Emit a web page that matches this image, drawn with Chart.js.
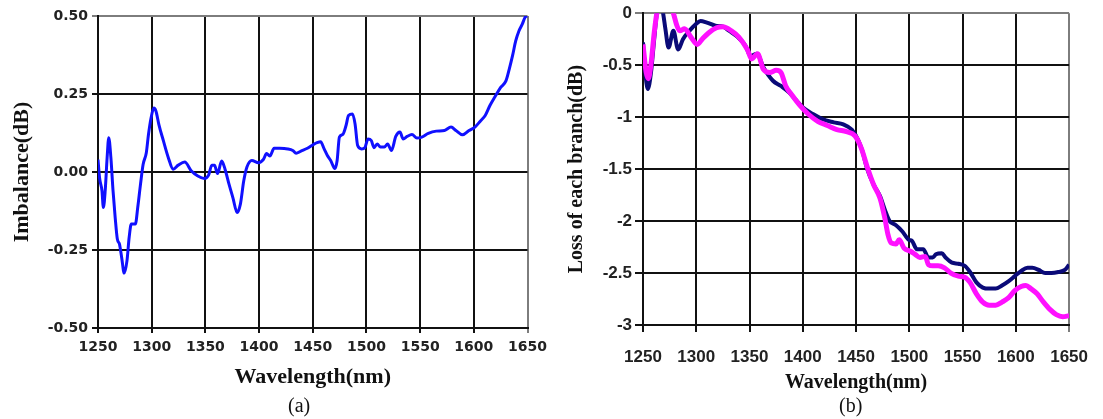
<!DOCTYPE html>
<html>
<head>
<meta charset="utf-8">
<script src="https://cdn.jsdelivr.net/npm/chart.js@4.4.1/dist/chart.umd.min.js"></script>
<style>
  body { margin: 0; background: #fff; width: 1103px; height: 419px; overflow: hidden; position: relative; }
  canvas { position: absolute; top: 0; }
  #chartA { left: 0; }
  #chartB { left: 553px; }
  .cap { position: absolute; top: 394px; font: 20px "Liberation Serif", serif; color: #111; }
</style>
</head>
<body>
<canvas id="chartA" width="553" height="419"></canvas>
<canvas id="chartB" width="550" height="419"></canvas>
<div class="cap" style="left:288px">(a)</div>
<div class="cap" style="left:839px">(b)</div>
<script>
// tick values
const wavelengthTicks = [1250, 1300, 1350, 1400, 1450, 1500, 1550, 1600, 1650];
const imbalanceTicks = [-0.5, -0.25, 0, 0.25, 0.5];
const lossTicks = [-3, -2.5, -2, -1.5, -1, -0.5, 0];

// (a) imbalance
const imbalanceWl = [1250, 1251.5, 1253.7, 1255, 1256.7, 1258.5, 1260, 1262, 1264, 1266,
    1268, 1270, 1272, 1274.4, 1277, 1279, 1281, 1284.8, 1287, 1289.6,
    1292, 1295, 1297, 1299.4, 1302, 1304, 1306.7, 1311, 1315.5, 1320,
    1324.7, 1330.8, 1337, 1343, 1349, 1353, 1356, 1358.5, 1361.3, 1365.2,
    1368.3, 1372, 1375.6, 1379.6, 1382.6, 1385.7, 1388.7, 1393.3, 1399.4, 1404,
    1407, 1410, 1414, 1419, 1426.8, 1431.4, 1434.5, 1439, 1445, 1450.6,
    1454, 1457.3, 1460.6, 1463.6, 1466.7, 1470.6, 1472.7, 1474.8, 1477.9, 1481,
    1483.3, 1487, 1489.4, 1491.8, 1495.5, 1498.5, 1501.5, 1504.5, 1507, 1510,
    1513, 1516.7, 1519.7, 1523.3, 1527.3, 1531.2, 1534.2, 1537.9, 1542.4, 1547,
    1551.5, 1557.6, 1565, 1572.7, 1578.8, 1583.3, 1589.4, 1595.5, 1601, 1606,
    1610.6, 1615, 1619.7, 1625, 1630, 1633, 1636, 1639, 1642, 1645,
    1648, 1650];
const imbalanceDb = [0.04, -0.02, -0.06, -0.114, -0.06, 0.046, 0.11, 0.046, -0.06, -0.146,
    -0.215, -0.231, -0.273, -0.324, -0.284, -0.21, -0.167, -0.167, -0.114, -0.039,
    0.024, 0.062, 0.12, 0.173, 0.205, 0.195, 0.152, 0.099, 0.046, 0.009,
    0.022, 0.032, 0.003, -0.013, -0.021, -0.01, 0.022, 0.022, -0.005, 0.035,
    0.009, -0.039, -0.082, -0.13, -0.103, -0.029, 0.016, 0.037, 0.03, 0.04,
    0.059, 0.051, 0.076, 0.076, 0.074, 0.069, 0.06, 0.067, 0.076, 0.088,
    0.094, 0.097, 0.074, 0.053, 0.037, 0.011, 0.037, 0.112, 0.12, 0.149,
    0.181, 0.186, 0.154, 0.085, 0.074, 0.078, 0.106, 0.101, 0.078, 0.09,
    0.08, 0.08, 0.09, 0.069, 0.114, 0.128, 0.106, 0.114, 0.12, 0.109,
    0.112, 0.124, 0.131, 0.133, 0.144, 0.133, 0.119, 0.133, 0.144, 0.163,
    0.181, 0.213, 0.241, 0.271, 0.293, 0.33, 0.372, 0.42, 0.452, 0.473,
    0.497, 0.5];

// (b) loss of each branch
const navyWl = [1250, 1251.5, 1254.5, 1257.5, 1260.5, 1263, 1265.5, 1268.5, 1271, 1274,
    1278.5, 1283, 1287.5, 1293.5, 1299.5, 1304, 1310, 1318, 1325, 1331,
    1339, 1346, 1351, 1357, 1363, 1372, 1379.5, 1387, 1393, 1400.5,
    1409.5, 1418.5, 1429, 1438, 1446, 1452, 1456, 1460.5, 1466.5, 1472.5,
    1477, 1481.5, 1487.5, 1493.5, 1499.5, 1502.5, 1507, 1513, 1518, 1522,
    1525, 1530.5, 1534, 1540, 1546, 1552, 1557, 1563, 1569, 1575,
    1581, 1587, 1593, 1599, 1605, 1611, 1615.5, 1621.5, 1627.5, 1633.5,
    1640, 1646, 1650];
const navyLoss = [-0.28, -0.49, -0.73, -0.57, -0.25, 0, 0.1, 0.02, -0.15, -0.33,
    -0.17, -0.35, -0.25, -0.17, -0.106, -0.074, -0.09, -0.12, -0.13, -0.17,
    -0.23, -0.31, -0.41, -0.39, -0.52, -0.65, -0.7, -0.76, -0.83, -0.91,
    -0.97, -1.02, -1.05, -1.07, -1.12, -1.22, -1.33, -1.5, -1.65, -1.76,
    -1.89, -2.0, -2.04, -2.1, -2.18, -2.19, -2.27, -2.27, -2.35, -2.35,
    -2.32, -2.31, -2.35, -2.4, -2.41, -2.43, -2.49, -2.59, -2.64, -2.65,
    -2.65, -2.62, -2.58, -2.53, -2.48, -2.45, -2.45, -2.47, -2.5, -2.5,
    -2.49, -2.47, -2.42];
const magentaWl = [1250, 1253, 1255, 1257.5, 1260.5, 1263, 1266, 1272, 1276, 1278.5,
    1281.5, 1284.5, 1289, 1295, 1301, 1305.5, 1311.5, 1319, 1325, 1333,
    1340, 1348, 1352, 1357.5, 1363, 1369, 1375, 1379.5, 1384, 1390,
    1397.5, 1405, 1414, 1423, 1432, 1441, 1449, 1455, 1460.5, 1466.5,
    1472.5, 1477, 1480, 1483, 1487.5, 1490.5, 1495, 1501, 1505.5, 1510,
    1515, 1518, 1522, 1527, 1533, 1539, 1546, 1552, 1557, 1563,
    1569, 1575, 1581, 1587, 1593, 1599, 1605, 1609.5, 1614, 1620,
    1626, 1632, 1638, 1644, 1650];
const magentaLoss = [-0.3, -0.57, -0.63, -0.49, -0.19, 0, 0.12, 0.1, 0.06, 0,
    -0.11, -0.17, -0.15, -0.23, -0.3, -0.25, -0.19, -0.14, -0.13, -0.17,
    -0.23, -0.35, -0.44, -0.39, -0.54, -0.57, -0.55, -0.57, -0.7, -0.79,
    -0.89, -0.97, -1.04, -1.08, -1.12, -1.14, -1.18, -1.3, -1.48, -1.65,
    -1.78, -1.97, -2.13, -2.21, -2.22, -2.18, -2.26, -2.29, -2.32, -2.35,
    -2.34, -2.42, -2.43, -2.43, -2.45, -2.5, -2.53, -2.54, -2.59, -2.7,
    -2.78, -2.81, -2.81, -2.78, -2.74, -2.67, -2.63, -2.62, -2.65, -2.7,
    -2.78, -2.85, -2.9, -2.92, -2.91];

function toPoints(xs, ys) {
    return xs.map((x, i) => ({ x: x, y: ys[i] }));
}

// top and right edges of the plot are grey, inner grid black
function gridColor(max) {
    return (ctx) => (ctx.tick && ctx.tick.value === max ? "#7d7d7d" : "#111");
}

function useTicks(values) {
    return (scale) => {
        scale.ticks = values.map((v) => ({ value: v }));
    };
}

const serifBold = (size) => ({ family: "Liberation Serif", weight: "bold", size: size });
const tickFontA = { family: "DejaVu Sans", weight: "bold", size: 14 };
const tickFontB = { family: "'Liberation Sans Narrow', 'Liberation Sans', Arial, sans-serif", weight: "bold", size: 17 };

const chartA = new Chart(document.getElementById("chartA").getContext("2d"), {
    type: "line",
    data: {
        datasets: [{
            data: toPoints(imbalanceWl, imbalanceDb),
            borderColor: "#1010ff",
            borderWidth: 3,
            pointRadius: 0,
            cubicInterpolationMode: "monotone",
        }],
    },
    options: {
        responsive: false,
        animation: false,
        layout: { padding: { top: 16, right: 17, left: 0, bottom: 0 } },
        plugins: { legend: { display: false }, tooltip: { enabled: false } },
        scales: {
            x: {
                type: "linear",
                min: 1250,
                max: 1650,
                afterBuildTicks: useTicks(wavelengthTicks),
                afterFit: (s) => { s.height = 91; },
                grid: { color: gridColor(1650), lineWidth: 2, tickLength: 5 },
                border: { color: "#111", width: 2 },
                ticks: {
                    font: tickFontA,
                    color: "#222",
                    padding: 6,
                    maxRotation: 0,
                    callback: (v) => String(v),
                },
                title: {
                    display: true,
                    text: "Wavelength(nm)",
                    font: serifBold(22),
                    color: "#111",
                    padding: { top: 0, bottom: 28 },
                },
            },
            y: {
                min: -0.5,
                max: 0.5,
                afterBuildTicks: useTicks(imbalanceTicks),
                afterFit: (s) => { s.width = 98; },
                grid: { color: gridColor(0.5), lineWidth: 2, tickLength: 6 },
                border: { color: "#111", width: 2 },
                ticks: {
                    font: tickFontA,
                    color: "#222",
                    padding: 4,
                    callback: (v) => v.toFixed(2),
                },
                title: {
                    display: true,
                    text: "Imbalance(dB)",
                    font: serifBold(22),
                    color: "#111",
                    padding: { top: 9, bottom: 0 },
                },
            },
        },
    },
});

const chartB = new Chart(document.getElementById("chartB").getContext("2d"), {
    type: "line",
    data: {
        datasets: [
            {
                data: toPoints(magentaWl, magentaLoss),
                borderColor: "#ff10ff",
                borderWidth: 5,
                pointRadius: 0,
                cubicInterpolationMode: "monotone",
                order: 0,
            },
            {
                data: toPoints(navyWl, navyLoss),
                borderColor: "#0a0a78",
                borderWidth: 4,
                pointRadius: 0,
                cubicInterpolationMode: "monotone",
                order: 1,
            },
        ],
    },
    options: {
        responsive: false,
        animation: false,
        layout: { padding: { top: 13, right: 19, left: 0, bottom: 0 } },
        plugins: { legend: { display: false }, tooltip: { enabled: false } },
        scales: {
            x: {
                type: "linear",
                min: 1250,
                max: 1650,
                afterBuildTicks: useTicks(wavelengthTicks),
                afterFit: (s) => { s.height = 94; },
                grid: { color: gridColor(1650), lineWidth: 2, tickLength: 7 },
                border: { color: "#111", width: 2 },
                ticks: {
                    font: tickFontB,
                    color: "#222",
                    padding: 15,
                    maxRotation: 0,
                    callback: (v) => String(v),
                },
                title: {
                    display: true,
                    text: "Wavelength(nm)",
                    font: serifBold(20),
                    color: "#111",
                    padding: { top: 0, bottom: 24 },
                },
            },
            y: {
                min: -3,
                max: 0,
                afterBuildTicks: useTicks(lossTicks),
                afterFit: (s) => { s.width = 90; },
                grid: { color: gridColor(0), lineWidth: 2, tickLength: 8 },
                border: { color: "#111", width: 2 },
                ticks: {
                    font: tickFontB,
                    color: "#222",
                    padding: 3,
                    callback: (v) => String(v),
                },
                title: {
                    display: true,
                    text: "Loss of each branch(dB)",
                    font: serifBold(20),
                    color: "#111",
                    padding: { top: 12, bottom: 0 },
                },
            },
        },
    },
});
</script>
</body>
</html>
